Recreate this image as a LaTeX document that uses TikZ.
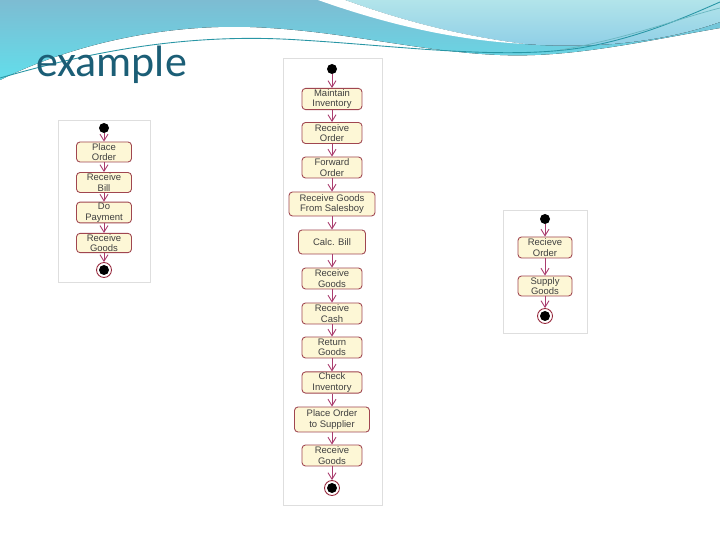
\documentclass[tikz,border=0pt]{standalone}
\usepackage{fontspec}
\setmainfont{Liberation Sans}
\newfontfamily\titlefont{Carlito}
\usetikzlibrary{arrows.meta,positioning}
\definecolor{acfill}{RGB}{253,247,214}
\definecolor{acedge}{RGB}{160,70,80}
\definecolor{acarrow}{RGB}{170,60,110}
\definecolor{acring}{RGB}{150,40,60}
\definecolor{panelgray}{RGB}{222,222,222}
\definecolor{bandtop}{RGB}{125,188,210}
\definecolor{bandlow}{RGB}{98,222,235}
\definecolor{skylight}{RGB}{178,228,234}
\definecolor{skylow}{RGB}{140,205,230}
\definecolor{wavet}{RGB}{40,150,165}
\definecolor{titleteal}{RGB}{27,94,118}
\tikzset{
  actnode/.style={rectangle,draw=acedge,fill=acfill,rounded corners=2pt,line width=0.5pt,minimum width=1.2cm,minimum height=0.42cm,inner sep=0.5pt,align=center,font=\fontsize{5.4}{6}\selectfont,text=black!75},
  startnode/.style={circle,fill=black,minimum size=0.2cm,inner sep=0pt},
  endnode/.style={circle,draw=acring,line width=0.5pt,fill=white,minimum size=0.3cm,inner sep=0pt,
    path picture={\fill[black] (path picture bounding box.center) circle (0.1cm);}},
  flowarrow/.style={-{Straight Barb[length=1.3mm,width=1.6mm]},draw=acarrow,line width=0.5pt},
  panelbox/.style={rectangle,draw=panelgray,fill=white,line width=0.4pt,inner sep=0pt}
}

\begin{document}
\begin{tikzpicture}[x=0.02cm,y=-0.02cm]
  \useasboundingbox (0,0) rectangle (720,540);
  \fill[white] (0,0) rectangle (720,540);
  \fill[top color=bandtop,bottom color=bandlow] (0,0) -- (720,0) -- (720,28)
    .. controls (640,42) and (570,58) .. (500,55)
    .. controls (420,52) and (340,30) .. (250,27)
    .. controls (150,24) and (60,50) .. (0,80) -- cycle;
  \fill[top color=skylight,bottom color=skylow] (345,0) -- (720,0) -- (720,22)
    .. controls (670,40) and (600,50) .. (525,44)
    .. controls (460,36) and (400,20) .. (345,0) -- cycle;
  \fill[white] (318,0) -- (345,0) .. controls (400,20) and (460,36) .. (525,44)
    .. controls (450,40) and (380,22) .. (318,0) -- cycle;
  \draw[wavet,line width=0.5pt] (0,78) .. controls (80,55) and (180,32) .. (300,40)
    .. controls (400,46) and (500,60) .. (580,48) .. controls (640,38) and (690,15) .. (720,2);
  \draw[wavet!70,line width=0.4pt] (560,50) .. controls (630,38) and (680,18) .. (720,8);
  \node[anchor=base west,font=\titlefont\fontsize{25}{29}\selectfont,text=titleteal,inner sep=0pt]
    (title) at (36,77) {example};

  \node[panelbox,minimum width=1.84cm,minimum height=3.24cm] (panelA) at (104,201) {};
  \node[panelbox,minimum width=1.98cm,minimum height=8.94cm] (panelB) at (332.5,281.5) {};
  \node[panelbox,minimum width=1.68cm,minimum height=2.46cm] (panelC) at (545,271.5) {};

  \node[startnode] (p1start) at (104,128) {};
  \node[actnode,minimum width=1.1cm,minimum height=0.4cm] (placeorder) at (104,152) {Place\\Order};
  \node[actnode,minimum width=1.1cm,minimum height=0.4cm] (receivebill) at (104,182.5) {Receive\\Bill};
  \node[actnode,minimum width=1.1cm,minimum height=0.4cm] (dopayment) at (104,212.5) {Do\\Payment};
  \node[actnode,minimum width=1.1cm,minimum height=0.38cm] (receivegoods) at (104,243) {Receive\\Goods};
  \node[endnode] (p1end) at (104,270) {};

  \node[startnode] (p2start) at (332,69) {};
  \node[actnode] (maintain) at (332,99) {Maintain\\Inventory};
  \node[actnode] (recorder) at (332,133) {Receive\\Order};
  \node[actnode] (fwdorder) at (332,167.5) {Forward\\Order};
  \node[actnode,minimum width=1.72cm,minimum height=0.48cm] (recsales) at (332,204) {Receive Goods\\From Salesboy};
  \node[actnode,minimum width=1.34cm,minimum height=0.48cm] (calcbill) at (332,242) {Calc. Bill};
  \node[actnode] (recgoods) at (332,278.5) {Receive\\Goods};
  \node[actnode] (reccash) at (332,313.5) {Receive\\Cash};
  \node[actnode] (retgoods) at (332,347.5) {Return\\Goods};
  \node[actnode] (checkinv) at (332,382.5) {Check\\Inventory};
  \node[actnode,minimum width=1.5cm,minimum height=0.5cm] (ordersupp) at (332,419.5) {Place Order\\to Supplier};
  \node[actnode] (recgoodsb) at (332,455.5) {Receive\\Goods};
  \node[endnode] (p2end) at (332,488) {};

  \node[startnode] (p3start) at (545,219) {};
  \node[actnode,minimum width=1.08cm] (recieveorder) at (545,247.5) {Recieve\\Order};
  \node[actnode,minimum width=1.08cm,minimum height=0.4cm] (supplygoods) at (545,286) {Supply\\Goods};
  \node[endnode] (p3end) at (545,316) {};

  \draw[flowarrow] (p1start) -- (placeorder);
  \draw[flowarrow] (placeorder) -- (receivebill);
  \draw[flowarrow] (receivebill) -- (dopayment);
  \draw[flowarrow] (dopayment) -- (receivegoods);
  \draw[flowarrow] (receivegoods) -- (p1end);
  \draw[flowarrow] (p2start) -- (maintain);
  \draw[flowarrow] (maintain) -- (recorder);
  \draw[flowarrow] (recorder) -- (fwdorder);
  \draw[flowarrow] (fwdorder) -- (recsales);
  \draw[flowarrow] (recsales) -- (calcbill);
  \draw[flowarrow] (calcbill) -- (recgoods);
  \draw[flowarrow] (recgoods) -- (reccash);
  \draw[flowarrow] (reccash) -- (retgoods);
  \draw[flowarrow] (retgoods) -- (checkinv);
  \draw[flowarrow] (checkinv) -- (ordersupp);
  \draw[flowarrow] (ordersupp) -- (recgoodsb);
  \draw[flowarrow] (recgoodsb) -- (p2end);
  \draw[flowarrow] (p3start) -- (recieveorder);
  \draw[flowarrow] (recieveorder) -- (supplygoods);
  \draw[flowarrow] (supplygoods) -- (p3end);
\end{tikzpicture}
\end{document}
